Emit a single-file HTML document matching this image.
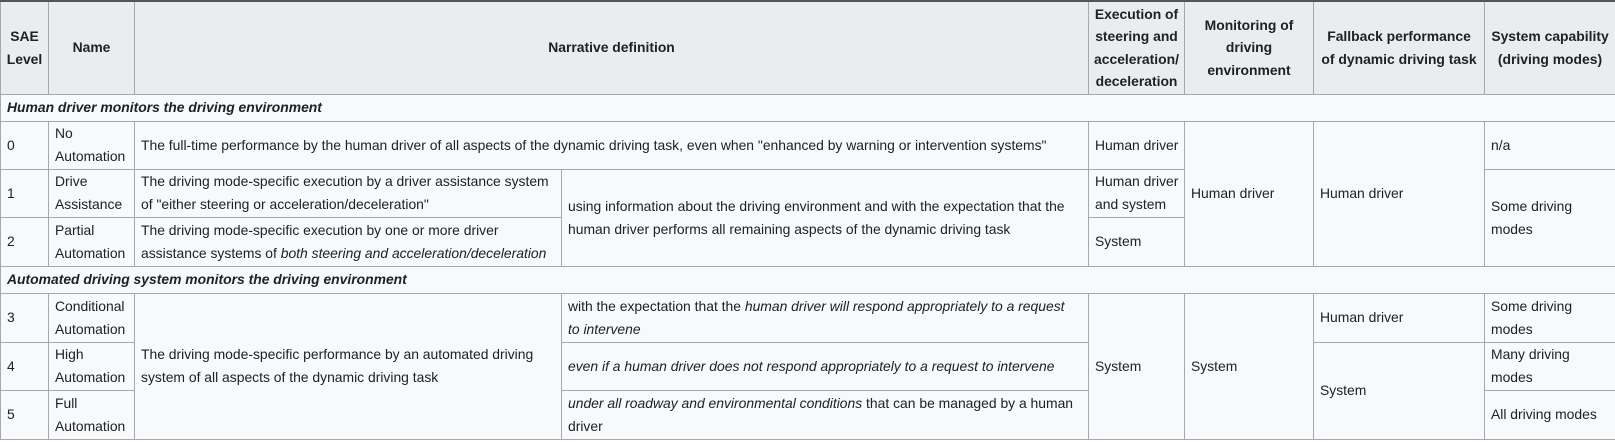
<!DOCTYPE html>
<html><head><meta charset="utf-8"><style>
body{margin:0;background:#fff;}
table{border-collapse:collapse;table-layout:fixed;width:1615px;font-family:"Liberation Sans",sans-serif;font-size:13.9px;line-height:22.6px;color:#202122;background:#f8f9fa;border-top:2px solid #555;}
td,th{border:1px solid #a2a9b1;padding:0 5px 0 6px;vertical-align:middle;text-align:left;overflow:hidden;}
th{background:#eaecf0;text-align:center;font-weight:bold;padding:0 3px;}
.sec{font-weight:bold;font-style:italic;}
</style></head><body>
<table>
<colgroup><col style="width:48px"><col style="width:86px"><col style="width:427px"><col style="width:527px"><col style="width:96px"><col style="width:129px"><col style="width:171px"><col style="width:131px"></colgroup>
<tr style="height:93px"><th>SAE Level</th><th>Name</th><th colspan="2">Narrative definition</th><th>Execution of steering and acceleration/ deceleration</th><th>Monitoring of driving environment</th><th>Fallback performance<br>of dynamic driving task</th><th>System capability (driving modes)</th></tr>
<tr style="height:27px"><td colspan="8" class="sec">Human driver monitors the driving environment</td></tr>
<tr style="height:48px"><td>0</td><td>No Automation</td><td colspan="2">The full-time performance by the human driver of all aspects of the dynamic driving task, even when "enhanced by warning or intervention systems"</td><td style="white-space:nowrap">Human driver</td><td rowspan="3">Human driver</td><td rowspan="3">Human driver</td><td>n/a</td></tr>
<tr style="height:48px"><td>1</td><td>Drive Assistance</td><td>The driving mode-specific execution by a driver assistance system of "either steering or acceleration/deceleration"</td><td rowspan="2">using information about the driving environment and with the expectation that the human driver performs all remaining aspects of the dynamic driving task</td><td><span style="white-space:nowrap">Human driver</span> and system</td><td rowspan="2">Some driving modes</td></tr>
<tr style="height:49px"><td>2</td><td>Partial Automation</td><td>The driving mode-specific execution by one or more driver assistance systems of <i>both steering and acceleration/deceleration</i></td><td>System</td></tr>
<tr style="height:27px"><td colspan="8" class="sec">Automated driving system monitors the driving environment</td></tr>
<tr style="height:49px"><td>3</td><td>Conditional Automation</td><td rowspan="3">The driving mode-specific performance by an automated driving system of all aspects of the dynamic driving task</td><td>with the expectation that the <i>human driver will respond appropriately to a request<br>to intervene</i></td><td rowspan="3">System</td><td rowspan="3">System</td><td>Human driver</td><td>Some driving modes</td></tr>
<tr style="height:48px"><td>4</td><td>High Automation</td><td><i>even if a human driver does not respond appropriately to a request to intervene</i></td><td rowspan="2">System</td><td>Many driving modes</td></tr>
<tr style="height:49px"><td>5</td><td>Full Automation</td><td><i>under all roadway and environmental conditions</i> that can be managed by a human driver</td><td>All driving modes</td></tr>
</table>
</body></html>
